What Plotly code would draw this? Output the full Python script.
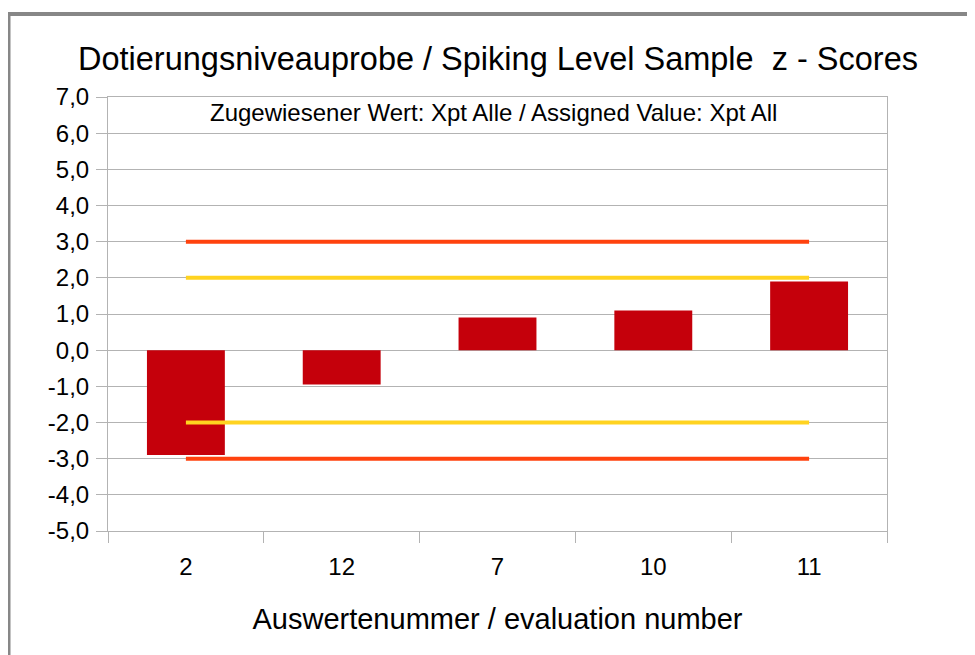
import plotly.graph_objects as go

categories = ["2", "12", "7", "10", "11"]
z_scores = [-2.9, -0.95, 0.9, 1.1, 1.9]
warn_limit = [2.0, -2.0]
action_limit = [3.0, -3.0]
y_ticks = list(range(-5, 8))
y_tick_labels = [f"{v},0" for v in y_ticks]

FONT = "Liberation Sans, Arial, sans-serif"

fig = go.Figure()
fig.add_trace(go.Bar(x=categories, y=z_scores, marker_color="#C5000B",
                     marker_line_width=0, width=0.5, showlegend=False))
for lim in action_limit:
    fig.add_trace(go.Scatter(x=[categories[0], categories[-1]], y=[lim, lim], mode="lines",
                             line=dict(color="#FF420E", width=4), showlegend=False))
for lim in warn_limit:
    fig.add_trace(go.Scatter(x=[categories[0], categories[-1]], y=[lim, lim], mode="lines",
                             line=dict(color="#FFD320", width=4), showlegend=False))

fig.update_layout(
    width=975, height=655,
    margin=dict(l=100, r=96, t=89, b=132),
    paper_bgcolor="white", plot_bgcolor="white",
    font=dict(family=FONT, color="black"),
    title=dict(text="Dotierungsniveauprobe / Spiking Level Sample  z - Scores",
               x=490 / 975, xanchor="center", y=1 - 51 / 655, yanchor="middle",
               font=dict(size=32.5, family=FONT, color="black")),
    xaxis=dict(type="category", tickson="boundaries", ticks="outside", ticklen=11,
               tickcolor="#b3b3b3", tickwidth=1, showgrid=False,
               showline=True, linecolor="#b3b3b3", mirror=True,
               tickfont=dict(size=24), range=[-0.5, 4.5], ticklabelstandoff=14,
               title=dict(text="Auswertenummer / evaluation number",
                          font=dict(size=29), standoff=29)),
    yaxis=dict(range=[-5, 7], tickvals=y_ticks, ticktext=y_tick_labels,
               ticks="outside", ticklen=11, tickcolor="#b3b3b3", tickwidth=1,
               showgrid=True, gridcolor="#b3b3b3", gridwidth=1,
               zeroline=True, zerolinecolor="#b3b3b3", zerolinewidth=1,
               showline=True, linecolor="#b3b3b3", mirror=True,
               tickfont=dict(size=24), ticklabelstandoff=2),
    bargap=0.5,
)

fig.add_annotation(text="Zugewiesener Wert: Xpt Alle / Assigned Value: Xpt All",
                   xref="paper", yref="paper", x=(493 - 108) / 779, y=(531 - 113) / 434,
                   xanchor="center", yanchor="middle", showarrow=False,
                   font=dict(size=24, family=FONT, color="black"))

# outer gray frame (partially cut off at right and bottom)
fig.add_shape(type="rect", xref="paper", yref="paper",
              x0=(8.5 - 108) / 779, x1=(990 - 108) / 779,
              y0=(531 - 670) / 434, y1=(531 - 14) / 434,
              line=dict(color="#878787", width=4), fillcolor="rgba(0,0,0,0)", layer="below")

fig.write_html("out.html")
